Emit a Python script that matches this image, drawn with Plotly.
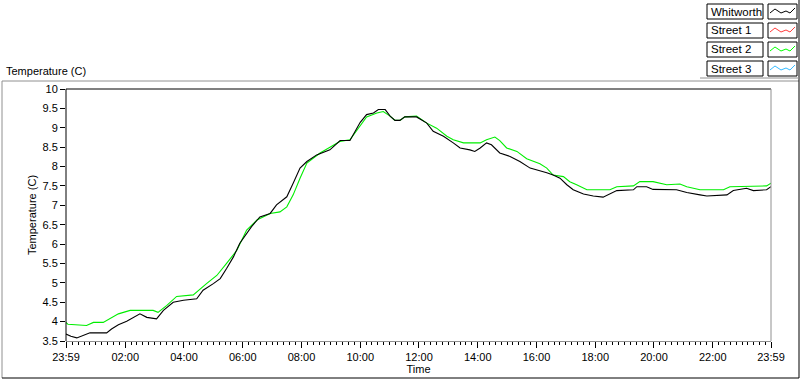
import plotly.graph_objects as go

# ---- data (minutes since 23:59 of previous day) ----
whitworth_t = [0, 10, 22, 33, 49, 83, 93, 107, 124, 151, 165, 185, 199, 219, 240, 267, 280, 301, 315, 328,
               342, 355, 366, 379, 396, 417, 430, 451, 464, 478, 492, 512, 539, 560, 580, 590, 601, 614, 628, 638,
               652, 662, 672, 682, 692, 716, 737, 750, 771, 791, 805, 825, 835, 846, 859, 869, 886, 907, 927, 948,
               968, 982, 995, 1009, 1023, 1036, 1057, 1077, 1097, 1111, 1125, 1159, 1166, 1186, 1199, 1247, 1268,
               1295, 1309, 1350, 1363, 1390, 1404, 1431, 1440]
whitworth_v = [3.68, 3.62, 3.58, 3.63, 3.71, 3.71, 3.81, 3.92, 4.01, 4.20, 4.11, 4.07, 4.29, 4.50, 4.55, 4.59, 4.81, 4.98, 5.11, 5.37,
               5.67, 6.02, 6.23, 6.45, 6.70, 6.79, 7.01, 7.22, 7.57, 7.96, 8.13, 8.30, 8.43, 8.67, 8.67, 8.91, 9.14, 9.34, 9.38, 9.47,
               9.47, 9.30, 9.19, 9.19, 9.28, 9.28, 9.12, 8.91, 8.78, 8.61, 8.48, 8.43, 8.39, 8.48, 8.61, 8.56, 8.35, 8.26, 8.13, 7.96,
               7.90, 7.84, 7.78, 7.70, 7.53, 7.40, 7.29, 7.24, 7.21, 7.29, 7.38, 7.40, 7.48, 7.48, 7.41, 7.40, 7.33,
               7.27, 7.24, 7.27, 7.38, 7.44, 7.38, 7.40, 7.48]

street2_t = [0, 4, 42, 56, 76, 90, 107, 131, 178, 188, 206, 226, 260, 287, 308, 328, 349, 369, 390, 417,
             437, 451, 464, 478, 492, 519, 560, 580, 601, 614, 635, 648, 662, 672, 682, 692, 716, 737, 757, 778,
             791, 812, 846, 859, 876, 886, 900, 921, 941, 968, 982, 995, 1016, 1029, 1043, 1064, 1111, 1125, 1159,
             1172, 1199, 1227, 1254, 1268, 1295, 1343, 1356, 1431, 1440]
street2_v = [3.98, 3.93, 3.90, 3.98, 3.98, 4.07, 4.20, 4.29, 4.29, 4.24, 4.42, 4.65, 4.69, 4.98, 5.19, 5.50, 5.84, 6.36, 6.62, 6.79,
             6.83, 6.96, 7.27, 7.70, 8.09, 8.35, 8.65, 8.69, 9.04, 9.28, 9.38, 9.42, 9.30, 9.19, 9.19, 9.28, 9.30, 9.12, 8.99, 8.78,
             8.69, 8.61, 8.61, 8.69, 8.76, 8.67, 8.48, 8.39, 8.20, 8.07, 7.96, 7.78, 7.74, 7.61, 7.53, 7.40, 7.40, 7.48, 7.50,
             7.61, 7.61, 7.53, 7.55, 7.48, 7.40, 7.40, 7.48, 7.50, 7.57]

x_tickvals = [0, 121, 241, 361, 481, 601, 721, 841, 961, 1081, 1201, 1321, 1440]
x_ticktext = ["23:59", "02:00", "04:00", "06:00", "08:00", "10:00", "12:00", "14:00", "16:00", "18:00",
              "20:00", "22:00", "23:59"]
y_tickvals = [3.5, 4, 4.5, 5, 5.5, 6, 6.5, 7, 7.5, 8, 8.5, 9, 9.5, 10]
y_ticktext = ["3.5", "4", "4.5", "5", "5.5", "6", "6.5", "7", "7.5", "8", "8.5", "9", "9.5", "10"]

legend_names = ["Whitworth", "Street 1", "Street 2", "Street 3"]
legend_colors = ["#000000", "#ff3c3c", "#00ff00", "#33bbff"]

FONT = "Liberation Sans"

# plot-area geometry in pixels
W, H = 800, 380
L, R, T, B = 66, 771, 89, 341


def px(x):
    return (x - L) / (R - L)


def py(y):
    return (B - y) / (B - T)


fig = go.Figure()
fig.add_trace(go.Scatter(x=street2_t, y=street2_v, mode="lines", name="Street 2",
                         line=dict(color="#00ee00", width=1.1)))
fig.add_trace(go.Scatter(x=whitworth_t, y=whitworth_v, mode="lines", name="Whitworth",
                         line=dict(color="#000000", width=1.1)))

shapes = []


def seg(x0, y0, x1, y1, color, w=1):
    shapes.append(dict(type="line", xref="paper", yref="paper",
                       x0=px(x0), y0=py(y0), x1=px(x1), y1=py(y1),
                       line=dict(color=color, width=w)))


# outer frame
seg(2, 81, 799, 81, "#909090")
seg(2, 81, 2, 378, "#909090")
seg(799, 0, 799, 378, "#000000")
seg(2, 378, 799, 378, "#000000")
seg(700, 78, 799, 78, "#909090")
# plot-area borders
seg(L, T, R, T, "#000000")
seg(L, T, L, B, "#000000")
seg(R, T, R, B, "#909090")

annotations = [dict(text="Temperature (C)", xref="paper", yref="paper", x=px(4), y=py(71),
                    xanchor="left", yanchor="middle", showarrow=False,
                    font=dict(family=FONT, size=11, color="#000000"))]

# custom legend
for i, (name, col) in enumerate(zip(legend_names, legend_colors)):
    top = 4 + 19 * i
    bot = top + 15
    shapes.append(dict(type="rect", xref="paper", yref="paper",
                       x0=px(707), x1=px(763), y0=py(bot), y1=py(top),
                       line=dict(color="#000000", width=1), fillcolor="#ffffff"))
    shapes.append(dict(type="rect", xref="paper", yref="paper",
                       x0=px(768), x1=px(797), y0=py(bot), y1=py(top),
                       line=dict(color="#000000", width=1), fillcolor="#ffffff"))
    zz = [(770, 13), (775, 9), (781, 13), (786, 11), (790, 13), (795, 8)]
    path = "M " + " L ".join(f"{px(a):.5f},{py(b + 19 * i):.5f}" for a, b in zz)
    shapes.append(dict(type="path", xref="paper", yref="paper", path=path,
                       line=dict(color=col, width=1)))
    annotations.append(dict(text=name, xref="paper", yref="paper", x=px(709), y=py((top + bot) / 2),
                            xanchor="left", yanchor="middle", showarrow=False,
                            font=dict(family=FONT, size=11.5, color="#000000")))

fig.update_layout(
    width=W, height=H,
    margin=dict(l=L, r=W - R, t=T, b=H - B, pad=0, autoexpand=False),
    paper_bgcolor="#ffffff", plot_bgcolor="#ffffff",
    showlegend=False,
    font=dict(family=FONT, size=11, color="#000000"),
    shapes=shapes,
    annotations=annotations,
    xaxis=dict(range=[0, 1440], tickmode="array", tickvals=x_tickvals, ticktext=x_ticktext,
               automargin=False,
               showgrid=False, zeroline=False, showline=True, linecolor="#909090", linewidth=1,
               ticks="outside", ticklen=6, tickcolor="#000000", tickwidth=1,
               minor=dict(tick0=1, dtick=12, ticks="outside", ticklen=3, tickcolor="#000000", showgrid=False),
               tickfont=dict(family=FONT, size=11),
               title=dict(text="Time", standoff=2, font=dict(family=FONT, size=11))),
    yaxis=dict(range=[3.5, 10], tickmode="array", tickvals=y_tickvals, ticktext=y_ticktext,
               automargin=False,
               showgrid=False, zeroline=False, showline=False,
               ticks="outside", ticklen=5, tickcolor="#000000", tickwidth=1,
               tickfont=dict(family=FONT, size=11),
               title=dict(text="Temperature (C)", standoff=3, font=dict(family=FONT, size=11))),
)

fig.write_html("out.html", config={"displayModeBar": False},
               post_script="document.body.style.margin='0';document.body.style.overflow='hidden';")
